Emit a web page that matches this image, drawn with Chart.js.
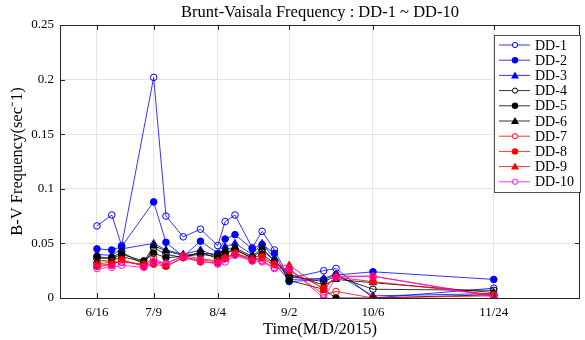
<!DOCTYPE html>
<html>
<head>
<meta charset="utf-8">
<script src="https://cdn.jsdelivr.net/npm/chart.js@4/dist/chart.umd.min.js"></script>
<style>
  body { margin: 0; background: #fff; }
  #wrap { width: 585px; height: 340px; }
</style>
</head>
<body>
<div id="wrap"><canvas id="bvChart"></canvas></div>
<script>
const dates = ["6/16", "6/22", "6/26", "7/5", "7/9", "7/14", "7/21", "7/28", "8/4", "8/7",
  "8/11", "8/18", "8/22", "8/27", "9/2", "9/16", "9/21", "10/6", "11/24"];

// null = no sample that day for that station
const dd1 = [0.066, 0.076, 0.048, null, 0.202, 0.075, 0.056, 0.063, 0.048, 0.070, 0.076, 0.046, 0.061, 0.044, 0.018, 0.025, 0.027, 0.000, 0.009];
const dd2 = [0.045, 0.044, 0.047, null, 0.088, 0.051, 0.038, 0.052, 0.041, 0.054, 0.058, 0.045, 0.049, 0.041, 0.015, 0.017, 0.021, 0.024, 0.017];
const dd3 = [0.040, 0.039, 0.045, null, 0.050, 0.044, 0.040, 0.044, 0.038, 0.047, 0.050, 0.040, 0.050, 0.036, 0.017, 0.018, 0.022, 0.002, 0.004];
const dd4 = [0.036, 0.037, 0.042, 0.031, 0.046, 0.040, 0.037, 0.042, 0.036, 0.042, 0.044, 0.037, 0.044, 0.034, 0.020, 0.015, 0.020, 0.008, 0.007];
const dd5 = [0.038, 0.036, 0.040, 0.034, 0.041, 0.037, 0.038, 0.040, 0.038, 0.040, 0.045, 0.036, 0.040, 0.032, 0.016, 0.008, 0.000, 0.000, 0.003];
const dd6 = [0.034, 0.034, 0.038, 0.033, 0.048, 0.043, 0.039, 0.041, 0.040, 0.044, 0.046, 0.038, 0.046, 0.034, 0.022, 0.012, 0.017, 0.014, 0.005];
const dd7 = [0.031, 0.033, 0.033, 0.031, 0.036, 0.031, 0.039, 0.036, 0.034, 0.037, 0.041, 0.036, 0.034, 0.028, 0.026, 0.003, 0.006, 0.000, 0.002];
const dd8 = [0.029, 0.030, 0.035, 0.029, 0.031, 0.029, 0.037, 0.033, 0.032, 0.036, 0.040, 0.034, 0.038, 0.031, 0.025, 0.009, 0.019, 0.015, 0.003];
const dd9 = [0.030, 0.031, 0.034, 0.030, 0.034, 0.029, 0.037, 0.035, 0.033, 0.036, 0.041, 0.035, 0.036, 0.030, 0.030, 0.008, 0.020, 0.020, 0.002];
const dd10 = [0.027, 0.028, 0.030, 0.028, 0.033, 0.032, 0.038, 0.034, 0.031, 0.033, 0.039, 0.034, 0.033, 0.027, 0.027, 0.000, 0.019, 0.020, 0.001];

const seriesNames = ["DD-1", "DD-2", "DD-3", "DD-4", "DD-5", "DD-6", "DD-7", "DD-8", "DD-9", "DD-10"];
const seriesValues = [dd1, dd2, dd3, dd4, dd5, dd6, dd7, dd8, dd9, dd10];

const xTickLabels = ["6/16", "7/9", "8/4", "9/2", "10/6", "11/24"];
const yTicks = [0, 0.05, 0.1, 0.15, 0.2, 0.25];

// marker style per series
const styles = [
  { color: "#0000ff", shape: "circle", open: true },
  { color: "#0000ff", shape: "circle", open: false },
  { color: "#0000ff", shape: "triangle", open: false },
  { color: "#000000", shape: "circle", open: true },
  { color: "#000000", shape: "circle", open: false },
  { color: "#000000", shape: "triangle", open: false },
  { color: "#ff0000", shape: "circle", open: true },
  { color: "#ff0000", shape: "circle", open: false },
  { color: "#ff0000", shape: "triangle", open: false },
  { color: "#ff00ff", shape: "circle", open: true }
];

const monthStart = [0, 31, 59, 90, 120, 151, 181, 212, 243, 273, 304, 334];
function dayOfYear(md) {
  const [m, d] = md.split("/").map(Number);
  return monthStart[m - 1] + d;
}

const serif = "'Liberation Serif', 'Times New Roman', serif";

const datasets = seriesValues.map((vals, i) => {
  const s = styles[i];
  return {
    label: seriesNames[i],
    data: vals.map((v, j) => ({ x: dayOfYear(dates[j]), y: v })),
    borderColor: s.color,
    borderWidth: 0.8,
    pointStyle: s.shape,
    pointRadius: s.shape === "triangle" ? 4 : 3.3,
    pointBorderWidth: 1,
    pointBorderColor: s.color,
    pointBackgroundColor: s.open ? "rgba(255,255,255,0)" : s.color,
    fill: false,
    spanGaps: true,
    tension: 0,
    order: 10 - i
  };
});

const framePlugin = {
  id: "frame",
  afterDraw(chart) {
    const c = chart.ctx;
    const a = chart.chartArea;
    c.save();
    // box
    c.strokeStyle = "#262626";
    c.lineWidth = 1;
    c.strokeRect(a.left + 0.5, a.top + 0.5, a.right - a.left - 1, a.bottom - a.top);
    // inward tick marks
    const xs = chart.scales.x, ys = chart.scales.y;
    c.beginPath();
    xs.ticks.forEach(t => {
      const px = Math.round(xs.getPixelForValue(t.value)) + 0.5;
      c.moveTo(px, a.bottom); c.lineTo(px, a.bottom - 5);
      c.moveTo(px, a.top); c.lineTo(px, a.top + 5);
    });
    ys.ticks.forEach(t => {
      const py = Math.round(ys.getPixelForValue(t.value)) + 0.5;
      c.moveTo(a.left, py); c.lineTo(a.left + 5, py);
      c.moveTo(a.right, py); c.lineTo(a.right - 5, py);
    });
    c.stroke();

    // title
    c.fillStyle = "#000";
    c.font = "16.5px " + serif;
    c.textAlign = "center";
    c.textBaseline = "middle";
    c.fillText("Brunt-Vaisala Frequency : DD-1 ~ DD-10", (a.left + a.right) / 2, 13);

    // legend
    const lx = 494, ly = 35, lw = 86, lh = 157;
    c.fillStyle = "#fff";
    c.fillRect(lx, ly, lw, lh);
    c.strokeStyle = "#262626";
    c.lineWidth = 0.8;
    c.strokeRect(lx + 0.5, ly + 0.5, lw, lh);
    chart.data.datasets.forEach((ds, i) => {
      const s = styles[i];
      const y = ly + 10 + i * 15.2;
      c.strokeStyle = s.color;
      c.lineWidth = 0.8;
      c.beginPath();
      c.moveTo(lx + 5, y); c.lineTo(lx + 36, y);
      c.stroke();
      c.fillStyle = s.color;
      c.lineWidth = 1;
      c.beginPath();
      if (s.shape === "triangle") {
        c.moveTo(lx + 21, y - 4); c.lineTo(lx + 25, y + 3); c.lineTo(lx + 17, y + 3); c.closePath();
        c.fill();
      } else {
        c.arc(lx + 21, y, s.open ? 2.6 : 3.2, 0, Math.PI * 2);
        if (s.open) { c.fillStyle = "#fff"; c.fill(); c.stroke(); } else c.fill();
      }
      c.fillStyle = "#000";
      c.font = "14px " + serif;
      c.textAlign = "left";
      c.fillText(ds.label, lx + 41, y + 1);
    });
    c.restore();
  }
};

new Chart(document.getElementById("bvChart"), {
  type: "line",
  data: { datasets },
  options: {
    responsive: true,
    maintainAspectRatio: false,
    animation: false,
    layout: { padding: { top: 25, right: -3, left: 0, bottom: 0 } },
    plugins: {
      legend: { display: false },
      title: { display: false },
      tooltip: { enabled: false }
    },
    scales: {
      x: {
        type: "linear",
        min: 152,
        max: 363,
        afterBuildTicks: scale => {
          scale.ticks = xTickLabels.map(l => ({ value: dayOfYear(l) }));
        },
        afterFit: scale => {
          scale.height = 42;
          scale.paddingLeft = 0;
          scale.paddingRight = 0;
        },
        grid: { color: "#e5e5e5", drawTicks: false, lineWidth: 1 },
        border: { display: false },
        ticks: {
          color: "#000",
          padding: 7,
          font: { family: serif, size: 13 },
          callback: (v, i) => xTickLabels[i]
        },
        title: {
          display: true,
          text: "Time(M/D/2015)",
          color: "#000",
          padding: { top: 0, bottom: 0 },
          font: { family: serif, size: 16.5 }
        }
      },
      y: {
        min: 0,
        max: 0.25,
        afterBuildTicks: scale => {
          scale.ticks = yTicks.map(v => ({ value: v }));
        },
        afterFit: scale => { scale.width = 60; },
        grid: { color: "#e5e5e5", drawTicks: false, lineWidth: 1 },
        border: { display: false },
        ticks: {
          color: "#000",
          padding: 6,
          font: { family: serif, size: 13 },
          callback: v => String(v)
        },
        title: {
          display: true,
          text: "B-V Frequency(sec\u207B1)",
          color: "#000",
          padding: { top: 8, bottom: 0 },
          font: { family: serif, size: 16.5 }
        }
      }
    }
  },
  plugins: [framePlugin]
});
</script>
</body>
</html>
